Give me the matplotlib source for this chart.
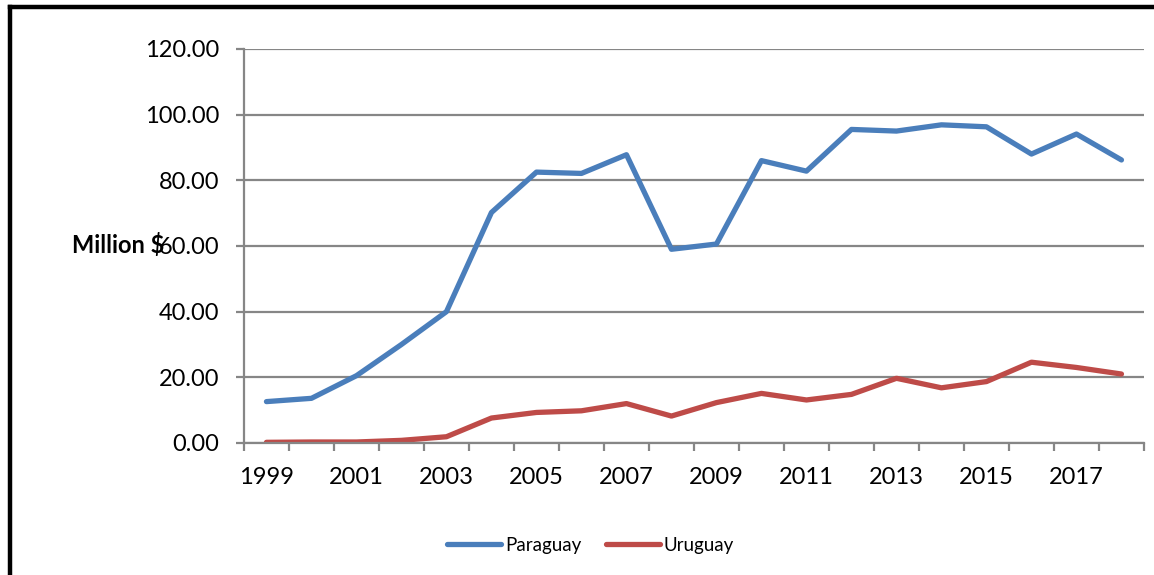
import numpy as np
import matplotlib.pyplot as plt
from matplotlib.lines import Line2D

# yearly values, million $
years = list(range(1999, 2019))
paraguay = [12.6, 13.6, 20.5, 30.0, 40.0, 70.2, 82.5, 82.1, 87.8, 59.0,
            60.6, 86.0, 82.8, 95.5, 95.0, 96.9, 96.3, 88.0, 94.1, 86.2]
uruguay = [0.2, 0.3, 0.3, 0.8, 1.9, 7.6, 9.3, 9.8, 12.0, 8.2,
           12.3, 15.1, 13.1, 14.8, 19.7, 16.8, 18.7, 24.6, 23.0, 21.0]

plt.rcParams['font.family'] = ['Lato', 'DejaVu Sans']

fig = plt.figure(figsize=(11.54, 5.75), dpi=100)
ax = fig.add_axes([0.2114, 0.2296, 0.7799, 0.6852])

x = np.arange(len(years))
ax.plot(x, paraguay, color='#4A7EBB', lw=3.8, label='Paraguay', solid_capstyle='round')
ax.plot(x, uruguay, color='#BE4B48', lw=3.8, label='Uruguay', solid_capstyle='round')

ax.set_xlim(-0.5, len(years) - 0.5)
ax.set_ylim(0, 120)
ax.set_yticks(np.arange(0, 121, 20))
ax.set_yticklabels(['%.2f' % v for v in np.arange(0, 121, 20)], fontsize=17)
ax.yaxis.grid(True, color='#868686', lw=1.6)
ax.set_axisbelow(True)

# category boundaries get the tick marks, labels sit between them
ax.set_xticks(np.arange(-0.5, len(years)), minor=False)
ax.set_xticklabels([])
ax.set_xticks(x[::2], minor=True)
ax.set_xticklabels([str(y) for y in years[::2]], minor=True, fontsize=17)
ax.tick_params(axis='x', which='major', length=6, width=1.6, color='#868686', direction='out')
ax.tick_params(axis='x', which='minor', length=0, pad=17)
ax.tick_params(axis='y', length=6, width=1.6, color='#868686', pad=12)

for s in ['top', 'right']:
    ax.spines[s].set_visible(False)
for s in ['left', 'bottom']:
    ax.spines[s].set_color('#868686')
    ax.spines[s].set_linewidth(1.6)

fig.text(0.0624, 0.574, 'Million $', fontsize=17, fontweight='bold', va='center', ha='left')

ax.legend(loc='upper center', bbox_to_anchor=(0.385, -0.195), ncol=2, frameon=False,
          fontsize=13.5, handlelength=2.9, handletextpad=0.2, columnspacing=1.3)

# outer frame, left and top edges
fig.add_artist(Line2D([0.0083, 0.0083], [0, 0.987], color='black', lw=3.2, transform=fig.transFigure))
fig.add_artist(Line2D([0.0083, 1.0], [0.987, 0.987], color='black', lw=3.2, transform=fig.transFigure))

fig.savefig('out.png', dpi=100)
